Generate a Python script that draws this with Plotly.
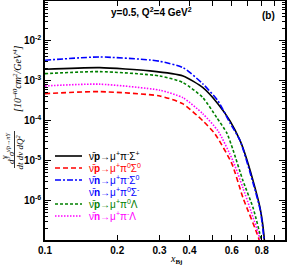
import plotly.graph_objects as go

# ---- data ----
x_pim_sigp = [0.1, 0.169, 0.274, 0.376, 0.455, 0.526, 0.590, 0.650, 0.681, 0.736, 0.787, 0.818, 0.825]
y_pim_sigp = [1.96e-3, 2.15e-3, 1.78e-3, 1.33e-3, 6.8e-4, 2.66e-4, 1.0e-4, 3.2e-5, 1.5e-5, 3.2e-6, 6.7e-7, 1.3e-7, 5e-8]

x_pi0_sig0 = [0.1, 0.169, 0.301, 0.376, 0.455, 0.511, 0.601, 0.668, 0.78, 0.79]
y_pi0_sig0 = [4.8e-4, 5.4e-4, 4.2e-4, 2.66e-4, 1.0e-4, 4.7e-5, 8.4e-6, 1.2e-6, 1.06e-7, 5e-8]

x_n_pim_sig0 = [0.1, 0.169, 0.274, 0.301, 0.376, 0.455, 0.526, 0.590, 0.650, 0.736, 0.79, 0.822, 0.83]
y_n_pim_sig0 = [3.29e-3, 3.98e-3, 3.35e-3, 3.1e-3, 2.15e-3, 8.4e-4, 3.16e-4, 8.9e-5, 3.2e-5, 2.8e-6, 5.6e-7, 8e-8, 4e-8]

x_pi0_lam = [0.1, 0.169, 0.301, 0.376, 0.455, 0.52, 0.572, 0.607, 0.668, 0.736, 0.795, 0.80]
y_pi0_lam = [1.52e-3, 1.71e-3, 1.33e-3, 9.1e-4, 3.8e-4, 1.2e-4, 5.0e-5, 1.9e-5, 3.2e-6, 6.7e-7, 1.06e-7, 5e-8]

x_n_pim_lam = [0.1, 0.169, 0.301, 0.376, 0.455, 0.526, 0.607, 0.668, 0.787, 0.795]
y_n_pim_lam = [7.5e-4, 8.3e-4, 5.85e-4, 3.8e-4, 1.5e-4, 5.6e-5, 1.0e-5, 2.1e-6, 1.06e-7, 5e-8]

x_tickvals = [0.1, 0.2, 0.3, 0.4, 0.5, 0.6, 0.7, 0.8, 0.9]
x_ticktext = ["0.1", "0.2", "0.3", "0.4", "", "0.6", "", "0.8", ""]
y_tickvals = [1e-6, 1e-5, 1e-4, 1e-3, 1e-2]
y_ticktext = ["10<sup>-6</sup>", "10<sup>-5</sup>", "10<sup>-4</sup>", "10<sup>-3</sup>", "10<sup>-2</sup>"]

NB = "\u03bd\u0304"
series = [
    (x_pim_sigp, y_pim_sigp, "black", "solid", NB + "<b>p</b>→μ<sup>+</sup>π<sup>-</sup>Σ<sup>+</sup>"),
    (x_pi0_sig0, y_pi0_sig0, "#ff0000", "5px,3px", NB + "<b>p</b>→μ<sup>+</sup>π<sup>0</sup>Σ<sup>0</sup>"),
    (x_n_pim_sig0, y_n_pim_sig0, "#0000ff", "6px,2px,2px,2px", NB + "<b>n</b>→μ<sup>+</sup>π<sup>-</sup>Σ<sup>0</sup>"),
    (None, None, "#0000ff", None, NB + "<b>n</b>→μ<sup>+</sup>π<sup>0</sup>Σ<sup>-</sup>"),
    (x_pi0_lam, y_pi0_lam, "#008000", "3px,2px", NB + "<b>p</b>→μ<sup>+</sup>π<sup>0</sup>Λ"),
    (x_n_pim_lam, y_n_pim_lam, "#ff00ff", "1.5px,1.5px", NB + "<b>n</b>→μ<sup>+</sup>π<sup>-</sup>Λ"),
]

L, R, T, B = 45, 11, 1, 30
W, H = 296, 270
PW, PH = W - L - R, H - T - B

def px(xpix):
    return (xpix - L) / PW

def py(ypix):
    return (T + PH - ypix) / PH

fig = go.Figure()
shapes = []
annotations = []
for i, (xs, ys, col, dash, name) in enumerate(series):
    if xs is not None:
        fig.add_trace(go.Scatter(x=xs, y=ys, mode="lines", line=dict(color=col, width=1.6, dash=dash, shape="spline", smoothing=0.6),
                                 showlegend=False, hoverinfo="skip"))
    ly = 156 + 12 * i
    if dash is not None:
        shapes.append(dict(type="line", xref="paper", yref="paper", x0=px(55), x1=px(82), y0=py(ly), y1=py(ly),
                           line=dict(color=col, width=1.6, dash=dash)))
    annotations.append(dict(xref="paper", yref="paper", x=px(87), y=py(ly), xanchor="left", yanchor="middle",
                            text=name, showarrow=False, font=dict(family="Liberation Sans", size=10, color=col)))

# texts
annotations += [
    dict(xref="paper", yref="paper", x=px(151), y=py(12), xanchor="center", yanchor="middle", showarrow=False,
         text="<b>y=0.5, Q<sup>2</sup>=4 GeV<sup>2</sup></b>", font=dict(family="Liberation Sans", size=10, color="black")),
    dict(xref="paper", yref="paper", x=px(268), y=py(15), xanchor="center", yanchor="middle", showarrow=False,
         text="<b>(b)</b>", font=dict(family="Liberation Sans", size=10, color="black")),
    dict(xref="paper", yref="paper", x=px(176), y=py(259), xanchor="center", yanchor="middle", showarrow=False,
         text="<i>x</i><sub><b>Bj</b></sub>", font=dict(family="Liberation Serif", size=10, color="black")),
    dict(xref="paper", yref="paper", x=px(17), y=py(79), xanchor="center", yanchor="middle", showarrow=False, textangle=-90,
         text="<i>[10<sup>-40</sup>cm<sup>2</sup>/GeV<sup>4</sup>]</i>", font=dict(family="Liberation Serif", size=10, color="black")),
    dict(xref="paper", yref="paper", x=px(10), y=py(148), xanchor="center", yanchor="middle", showarrow=False, textangle=-90,
         text="<i>d<sup>3</sup>σ<sup>" + NB + "p→πY</sup></i>", font=dict(family="Liberation Serif", size=9, color="black")),
    dict(xref="paper", yref="paper", x=px(19.5), y=py(152), xanchor="center", yanchor="middle", showarrow=False, textangle=-90,
         text="<i>dt dν dQ<sup>2</sup></i>", font=dict(family="Liberation Serif", size=9, color="black")),
    dict(xref="paper", yref="paper", x=px(5), y=py(157), xanchor="center", yanchor="middle", showarrow=False, textangle=-90,
         text="ν", font=dict(family="Liberation Serif", size=8, color="black")),
]
shapes.append(dict(type="line", xref="paper", yref="paper", x0=px(14.5), x1=px(14.5), y0=py(131), y1=py(168),
                   line=dict(color="black", width=0.8)))

fig.update_layout(
    template="none",
    width=W, height=H, margin=dict(l=L, r=R, t=T, b=B, pad=0, autoexpand=False),
    paper_bgcolor="white", plot_bgcolor="white",
    shapes=shapes, annotations=annotations, showlegend=False,
    xaxis=dict(type="log", range=[-1, 0], tickvals=x_tickvals, ticktext=x_ticktext, ticks="inside", ticklen=5,
               tickwidth=1, tickcolor="black", showline=True, linecolor="black", linewidth=1.5, mirror="allticks",
               showgrid=False, zeroline=False, automargin=False,
               tickfont=dict(family="Liberation Sans", size=10, color="black", weight="bold")),
    yaxis=dict(type="log", range=[-6.98, -1], tickvals=y_tickvals, ticktext=y_ticktext, ticks="inside", ticklen=6,
               tickwidth=1, tickcolor="black", showline=True, linecolor="black", linewidth=1.5, mirror="allticks",
               showgrid=False, zeroline=False, automargin=False,
               minor=dict(ticks="inside", ticklen=3, tickcolor="black", dtick="D1", showgrid=False),
               tickfont=dict(family="Liberation Sans", size=10, color="black", weight="bold")),
)
fig.write_html("out.html", config={"displayModeBar": False},
               post_script="document.body.style.margin='0px';document.body.style.overflow='hidden';")
